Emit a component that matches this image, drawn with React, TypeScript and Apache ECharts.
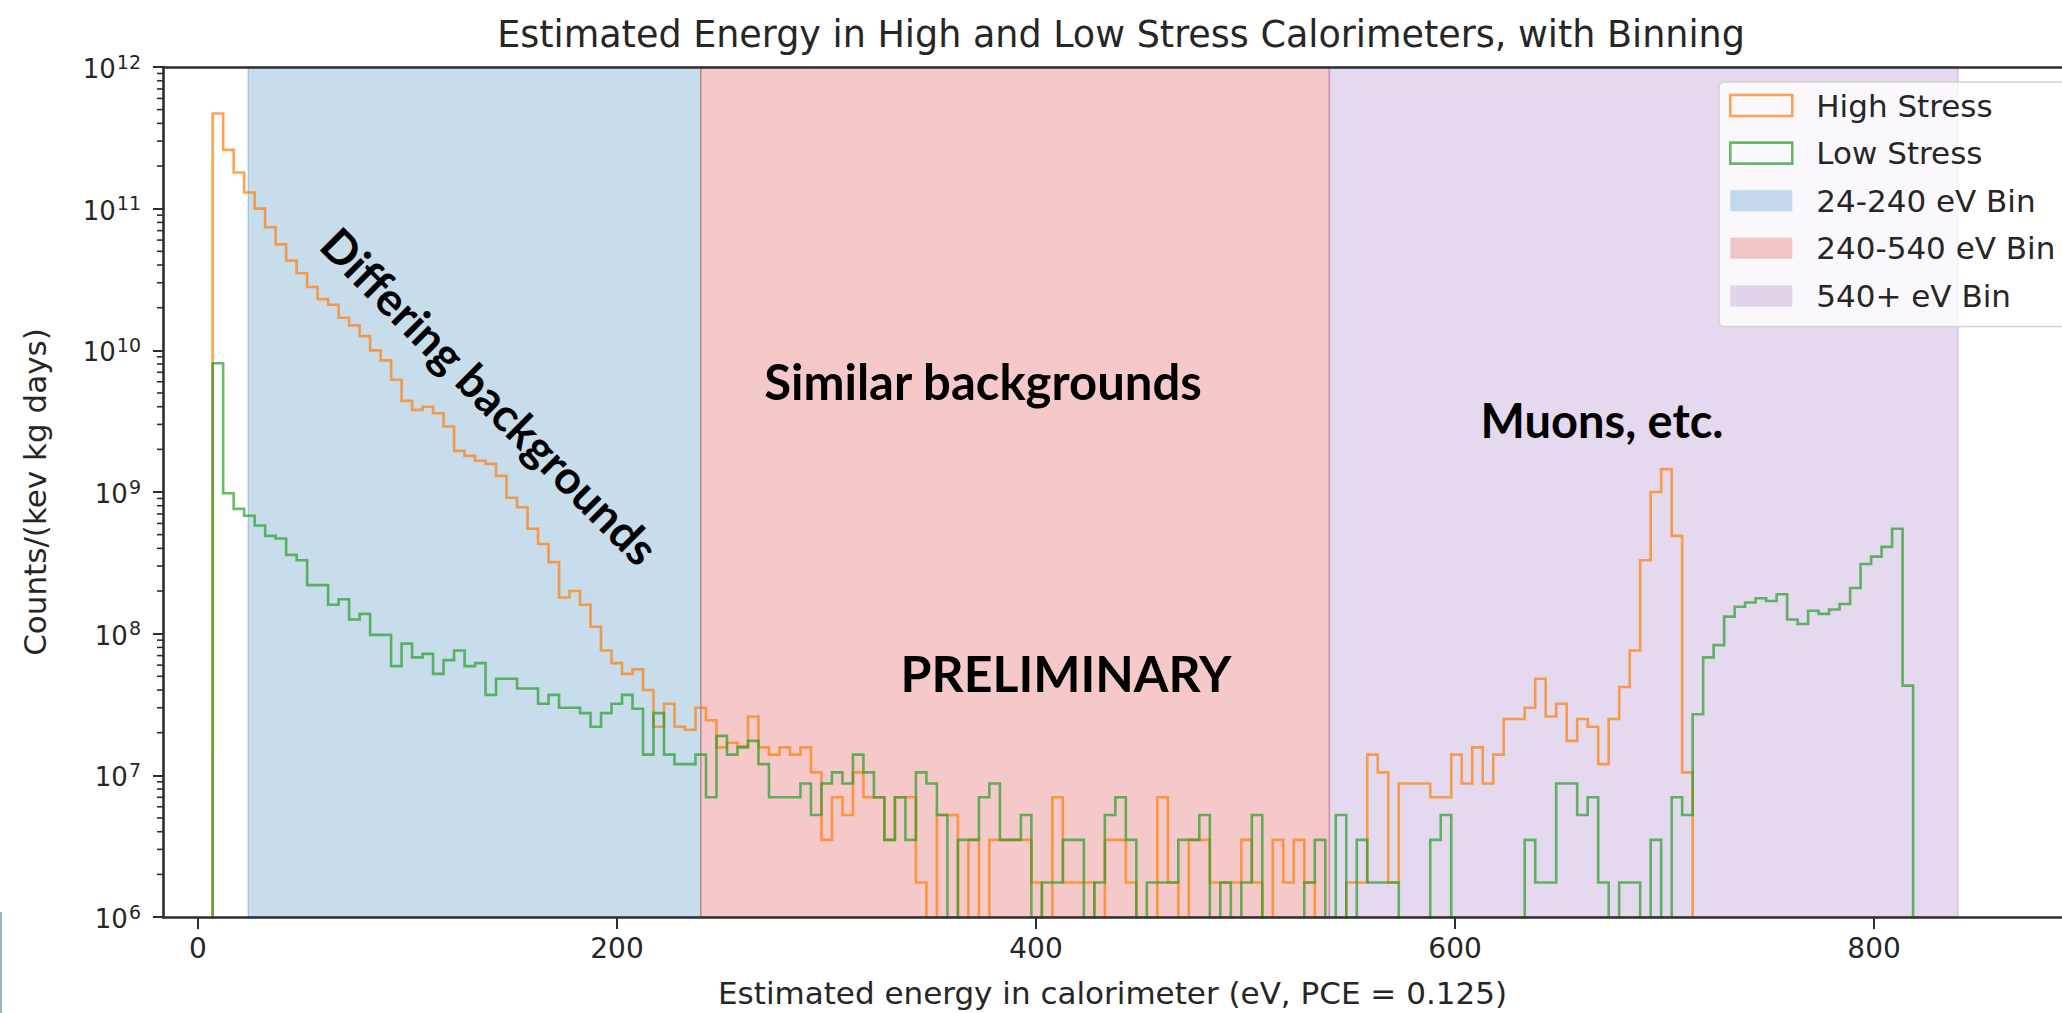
import React, { useEffect, useRef } from "react";
import * as echarts from "echarts";

// Histogram binning (eV): 162 equal-width bins starting at 7 eV
const BIN_START = 7.0;
const BIN_WIDTH = 5.01;

// Counts/(kev kg days) per bin, high-stress calorimeter
const HIGH_STRESS = [
  4.7e11, 2.6e11, 1.8e11, 1.3e11, 1.0e11, 7.4e10, 5.6e10, 4.3e10, 3.5e10, 2.8e10,
  2.3e10, 2.1e10, 1.7e10, 1.5e10, 1.26e10, 1.0e10, 8.5e9, 6.2e9, 4.4e9, 3.8e9,
  4.0e9, 3.6e9, 2.9e9, 1.95e9, 1.8e9, 1.66e9, 1.58e9, 1.3e9, 9.1e8, 7.8e8,
  5.5e8, 4.3e8, 3.2e8, 1.8e8, 2.0e8, 1.6e8, 1.12e8, 7.6e7, 6.2e7, 5.2e7,
  5.6e7, 4.0e7, 2.2e7, 3.2e7, 2.2e7, 2.1e7, 3.0e7, 2.45e7, 1.575e7, 1.7e7,
  1.6e7, 2.6e7, 1.575e7, 1.4e7, 1.575e7, 1.4e7, 1.575e7, 1.05e7, 3.5e6, 7e6,
  5.25e6, 1.05e7, 7e6, 7e6, 3.5e6, 7e6, 7e6, 1.75e6, 0, 5.25e6,
  5.25e6, 0, 3.5e6, 0, 3.5e6, 3.5e6, 3.5e6, 3.5e6, 1.75e6, 0,
  7e6, 1.75e6, 1.75e6, 1.75e6, 0, 3.5e6, 3.5e6, 1.75e6, 0, 0,
  7e6, 1.75e6, 0, 3.5e6, 3.5e6, 1.75e6, 1.75e6, 1.75e6, 3.5e6, 1.75e6,
  0, 3.5e6, 1.75e6, 3.5e6, 1.75e6, 0, 0, 0, 1.75e6, 1.75e6,
  1.4e7, 1.05e7, 1.75e6, 8.75e6, 8.75e6, 8.75e6, 7e6, 7e6, 1.4e7, 8.75e6,
  1.575e7, 8.75e6, 1.4e7, 2.5e7, 2.5e7, 3.0e7, 4.8e7, 2.6e7, 3.2e7, 1.75e7,
  2.5e7, 2.2e7, 1.2e7, 2.5e7, 4.2e7, 7.6e7, 3.3e8, 1.0e9, 1.45e9, 4.9e8,
  1.05e7, 0, 0, 0, 0, 0, 0, 0, 0, 0,
  0, 0, 0, 0, 0, 0, 0, 0, 0, 0,
  0, 0,
];

// Counts/(kev kg days) per bin, low-stress calorimeter
const LOW_STRESS = [
  8.1e9, 9.8e8, 7.6e8, 6.8e8, 5.8e8, 4.9e8, 4.7e8, 3.6e8, 3.3e8, 2.2e8,
  2.2e8, 1.6e8, 1.75e8, 1.26e8, 1.38e8, 9.8e7, 9.8e7, 5.9e7, 8.5e7, 6.8e7,
  7.2e7, 5.2e7, 6.5e7, 7.6e7, 5.9e7, 6.2e7, 3.7e7, 4.8e7, 4.8e7, 4.1e7,
  4.1e7, 3.2e7, 3.7e7, 3.0e7, 3.0e7, 2.75e7, 2.2e7, 2.75e7, 3.2e7, 3.7e7,
  2.95e7, 1.4e7, 2.75e7, 1.4e7, 1.2e7, 1.2e7, 1.4e7, 7e6, 1.9e7, 1.4e7,
  1.575e7, 1.75e7, 1.2e7, 7e6, 7e6, 7e6, 8.75e6, 5.25e6, 8.75e6, 1.05e7,
  8.75e6, 1.4e7, 1.05e7, 7e6, 3.5e6, 7e6, 3.5e6, 1.05e7, 8.75e6, 5.25e6,
  0, 3.5e6, 3.5e6, 7e6, 8.75e6, 3.5e6, 3.5e6, 5.25e6, 0, 1.75e6,
  1.75e6, 3.5e6, 3.5e6, 0, 1.75e6, 5.25e6, 7e6, 3.5e6, 0, 1.75e6,
  1.75e6, 1.75e6, 3.5e6, 3.5e6, 5.25e6, 0, 1.75e6, 0, 1.75e6, 5.25e6,
  0, 0, 0, 0, 1.75e6, 3.5e6, 0, 5.25e6, 0, 3.5e6,
  1.75e6, 1.75e6, 1.75e6, 0, 0, 0, 3.5e6, 5.25e6, 0, 0,
  0, 0, 0, 0, 0, 3.5e6, 1.75e6, 1.75e6, 8.75e6, 8.75e6,
  5.25e6, 7e6, 1.75e6, 0, 1.75e6, 1.75e6, 0, 3.5e6, 0, 7e6,
  5.25e6, 2.7e7, 6.8e7, 8.3e7, 1.32e8, 1.55e8, 1.66e8, 1.78e8, 1.7e8, 1.9e8,
  1.26e8, 1.17e8, 1.45e8, 1.38e8, 1.48e8, 1.62e8, 2.1e8, 3.1e8, 3.5e8, 4.1e8,
  5.5e8, 4.3e7,
];

// Shaded energy bins
const BIN_NAMES = ["24-240 eV Bin", "240-540 eV Bin", "540+ eV Bin"];
const BIN_FROM = [24, 240, 540];
const BIN_TO = [240, 540, 840];
const BIN_RGB = ["31,119,180", "214,39,40", "148,103,189"];

const SERIES_NAMES = ["High Stress", "Low Stress"];
const X_TICKS = [0, 200, 400, 600, 800];
const X_MIN = -16.7;
const X_MAX = 889.7;
const Y_MIN = 1e6;
const Y_MAX = 1e12;
const ZERO_FLOOR = 1e4; // empty bins fall off the bottom of the log axis

const TITLE = "Estimated Energy in High and Low Stress Calorimeters, with Binning";
const X_NAME = "Estimated energy in calorimeter (eV, PCE = 0.125)";
const Y_NAME = "Counts/(kev kg days)";

const ORANGE = "rgba(255,127,14,0.72)";
const GREEN = "rgba(44,160,44,0.72)";
const INK = "#262626";
const SPINE = "#2e2e2e";
const FONT = "DejaVu Sans";
const NOTE_FONT = "Lato";

// Matplotlib-style "step" outline of a histogram
function stepOutline(values: number[]): number[][] {
  const pts: number[][] = [[BIN_START, ZERO_FLOOR]];
  values.forEach((v, i) => {
    const y = v > 0 ? v : ZERO_FLOOR;
    const x0 = BIN_START + i * BIN_WIDTH;
    pts.push([x0, y], [x0 + BIN_WIDTH, y]);
  });
  pts.push([BIN_START + values.length * BIN_WIDTH, ZERO_FLOOR]);
  return pts;
}

function minorTickValues(): number[] {
  const out: number[] = [];
  for (let e = 6; e < 12; e++) {
    for (let m = 2; m <= 9; m++) out.push(m * Math.pow(10, e));
  }
  return out;
}

function note(text: string, x: number, y: number, size: number, rotation = 0) {
  return {
    type: "text",
    x,
    y,
    z: 100,
    rotation,
    style: {
      text,
      align: "center",
      verticalAlign: "middle",
      fontFamily: NOTE_FONT,
      fontWeight: "bold",
      fontSize: size,
      fill: "#000000",
    },
  };
}

export default function App() {
  const ref = useRef<HTMLDivElement>(null);

  useEffect(() => {
    if (!ref.current) return;
    const chart = echarts.init(ref.current, undefined, { renderer: "svg" });

    const spanSeries = BIN_NAMES.map((name, i) => ({
      type: "custom",
      name,
      z: 1,
      silent: true,
      itemStyle: { color: `rgba(${BIN_RGB[i]},0.25)` },
      data: [[BIN_FROM[i], BIN_TO[i]]],
      renderItem: (_p: any, api: any) => {
        const a = api.coord([api.value(0), Y_MAX]);
        const b = api.coord([api.value(1), Y_MIN]);
        return {
          type: "rect",
          shape: { x: a[0], y: a[1], width: b[0] - a[0], height: b[1] - a[1] },
          style: {
            fill: `rgba(${BIN_RGB[i]},0.25)`,
            stroke: `rgba(${BIN_RGB[i]},0.3)`,
            lineWidth: 1.5,
          },
        };
      },
    }));

    const histSeries = [HIGH_STRESS, LOW_STRESS].map((vals, i) => ({
      type: "line",
      name: SERIES_NAMES[i],
      z: 3,
      data: stepOutline(vals),
      showSymbol: false,
      symbol: "none",
      clip: true,
      silent: true,
      color: i === 0 ? ORANGE : GREEN,
      lineStyle: { width: 2.6, color: i === 0 ? ORANGE : GREEN, join: "miter" },
    }));

    const minorTicks = {
      type: "custom",
      name: "minor-ticks",
      z: 5,
      silent: true,
      clip: false,
      data: minorTickValues().map((v) => [X_MIN, v]),
      renderItem: (_p: any, api: any) => {
        const p = api.coord([api.value(0), api.value(1)]);
        return {
          type: "line",
          shape: { x1: p[0] - 6, y1: p[1], x2: p[0], y2: p[1] },
          style: { stroke: SPINE, lineWidth: 1.6 },
        };
      },
    };

    const legendData = [
      { name: SERIES_NAMES[0], icon: "rect", itemStyle: { color: "rgba(255,255,255,0)", borderColor: ORANGE, borderWidth: 2.6 } },
      { name: SERIES_NAMES[1], icon: "rect", itemStyle: { color: "rgba(255,255,255,0)", borderColor: GREEN, borderWidth: 2.6 } },
      ...BIN_NAMES.map((name, i) => ({
        name,
        icon: "rect",
        itemStyle: { color: `rgba(${BIN_RGB[i]},0.25)`, borderWidth: 0 },
      })),
    ];

    chart.setOption({
      animation: false,
      backgroundColor: "#ffffff",
      grid: { left: 163, top: 67, width: 1899, height: 851, containLabel: false },
      legend: {
        orient: "vertical",
        left: 1719,
        top: 82,
        z: 20,
        data: legendData,
        selectedMode: false,
        itemWidth: 62,
        itemHeight: 21,
        itemGap: 16.6,
        padding: [8, 24, 15, 10],
        backgroundColor: "rgba(255,255,255,0.8)",
        borderColor: "#d2d2d2",
        borderWidth: 1.5,
        borderRadius: 5,
        textStyle: { fontFamily: FONT, fontSize: 31, color: INK, lineHeight: 30, padding: [0, 0, 0, 19] },
      },
      xAxis: [
        {
          type: "value",
          min: X_MIN,
          max: X_MAX,
          position: "bottom",
          z: 10,
          axisLine: { show: true, onZero: false, lineStyle: { color: SPINE, width: 2.6 } },
          axisTick: { show: true, length: 12, customValues: X_TICKS, lineStyle: { color: SPINE, width: 2 } },
          axisLabel: { customValues: X_TICKS, fontFamily: FONT, fontSize: 28, color: INK, margin: 17 },
          splitLine: { show: false },
          name: X_NAME,
          nameLocation: "middle",
          nameGap: 60,
          nameTextStyle: { fontFamily: FONT, fontSize: 31, color: INK },
        },
        {
          type: "value",
          min: X_MIN,
          max: X_MAX,
          position: "top",
          z: 10,
          axisLine: { show: true, onZero: false, lineStyle: { color: SPINE, width: 2.6 } },
          axisTick: { show: false },
          axisLabel: { show: false },
          splitLine: { show: false },
        },
      ],
      yAxis: {
        type: "log",
        logBase: 10,
        min: Y_MIN,
        max: Y_MAX,
        z: 10,
        axisLine: { show: true, onZero: false, lineStyle: { color: SPINE, width: 2.6 } },
        axisTick: { show: true, length: 10, lineStyle: { color: SPINE, width: 2 } },
        axisLabel: {
          margin: 22,
          formatter: (v: number) => `{b|10}{s|${Math.round(Math.log10(v))}}`,
          rich: {
            b: { fontFamily: FONT, fontSize: 26, color: INK, verticalAlign: "bottom", lineHeight: 30 },
            s: { fontFamily: FONT, fontSize: 19, color: INK, verticalAlign: "bottom", lineHeight: 30, padding: [0, 0, 11, 1] },
          },
        },
        splitLine: { show: false },
        name: Y_NAME,
        nameLocation: "middle",
        nameGap: 113,
        nameRotate: 90,
        nameTextStyle: { fontFamily: FONT, fontSize: 31, color: INK },
      },
      graphic: [
        {
          type: "text",
          x: 1121,
          y: 34,
          z: 100,
          style: { text: TITLE, align: "center", verticalAlign: "middle", fontFamily: FONT, fontSize: 36.5, fill: INK },
        },
        note("Differing backgrounds", 490, 396, 46, -Math.PI / 4),
        note("Similar backgrounds", 983, 381, 49),
        note("PRELIMINARY", 1066, 673, 50),
        note("Muons, etc.", 1602, 420, 47),
        {
          type: "rect",
          z: 100,
          shape: { x: 0, y: 912, width: 2, height: 101 },
          style: { fill: "#9db2cc" },
        },
      ],
      series: [...spanSeries, ...histSeries, minorTicks],
    });

    return () => chart.dispose();
  }, []);

  return (
    <div
      ref={ref}
      style={{ position: "fixed", left: 0, top: 0, width: 2062, height: 1013, background: "#fff" }}
    />
  );
}
